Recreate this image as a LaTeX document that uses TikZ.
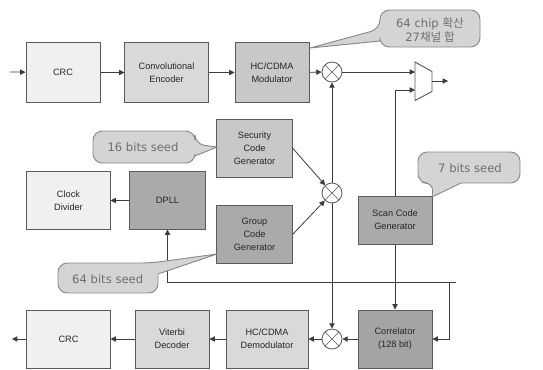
\documentclass[tikz,border=0pt]{standalone}
\usepackage{fontspec}
\setmainfont{Liberation Sans}
\newfontfamily\notefont{DejaVu Sans}
\newfontfamily\kofont{Noto Sans CJK KR}
\usetikzlibrary{arrows.meta}

\definecolor{wirec}{HTML}{3C3C3C}
\definecolor{edgec}{HTML}{5A5A5A}
\definecolor{fillA}{HTML}{F0F0F0}
\definecolor{fillB}{HTML}{D9D9D9}
\definecolor{fillC}{HTML}{C8C8C8}
\definecolor{fillD}{HTML}{AAAAAA}
\definecolor{fillE}{HTML}{A4A4A4}
\definecolor{notefill}{HTML}{D4D4D4}
\definecolor{noteedge}{HTML}{8A8A8A}
\definecolor{notetext}{HTML}{6E6E6E}

\begin{document}
\begin{tikzpicture}[x=0.75pt,y=-0.75pt,
  blk/.style={draw=edgec, line width=0.75pt, inner sep=0pt, align=center,
    text=black!85, font=\fontsize{6.9}{9.6}\selectfont},
  wire/.style={draw=wirec, line width=0.6pt},
  flow/.style={wire, -{Triangle[length=4pt,width=4pt]}},
  mult/.style={circle, draw=edgec, fill=white, line width=0.6pt,
    minimum size=15pt, inner sep=0pt,
    path picture={\draw[edgec, line width=0.5pt]
      (path picture bounding box.north west) -- (path picture bounding box.south east)
      (path picture bounding box.north east) -- (path picture bounding box.south west);}},
  note/.style={draw=noteedge, fill=notefill, line width=0.7pt},
  notetxt/.style={text=notetext, align=center, inner sep=0pt,
    font=\notefont\fontsize{8.7}{11}\selectfont}]

\useasboundingbox (0,0) rectangle (543,369);

% ---- transmit chain
\node[blk, fill=fillA, minimum width=55.5pt, minimum height=44.3pt] (crcT) at (63,72.5) {CRC};
\node[blk, fill=fillB, minimum width=62.3pt, minimum height=44.3pt] (conv) at (166.5,72.5) {Convolutional\\Encoder};
\node[blk, fill=fillC, minimum width=55.5pt, minimum height=44.3pt] (mod) at (272,72.5) {HC/CDMA\\Modulator};
\node[mult] (mxT) at (332,72) {};

% ---- code generators and clock
\node[blk, fill=fillC, minimum width=56.3pt, minimum height=43.5pt] (sec) at (254.5,148) {Security\\Code\\Generator};
\node[blk, fill=fillD, minimum width=56.3pt, minimum height=42.8pt] (grp) at (254.5,234.5) {Group\\Code\\Generator};
\node[blk, fill=fillA, minimum width=62.3pt, minimum height=42.8pt] (clk) at (68.5,200.5) {Clock\\Divider};
\node[blk, fill=fillD, minimum width=56.3pt, minimum height=42.8pt] (dpll) at (167.5,200.5) {DPLL};
\node[mult] (mxM) at (332,193) {};
\node[blk, fill=fillD, minimum width=55.5pt, minimum height=36pt] (scan) at (395,220) {Scan Code\\Generator};

% ---- receive chain
\node[blk, fill=fillE, minimum width=55.5pt, minimum height=43.5pt] (corr) at (395,339) {Correlator\\(128 bit)};
\node[mult] (mxB) at (332,339) {};
\node[blk, fill=fillB, minimum width=61.5pt, minimum height=43.5pt] (demod) at (267,339) {HC/CDMA\\Demodulator};
\node[blk, fill=fillB, minimum width=55.5pt, minimum height=43.5pt] (vit) at (172,339) {Viterbi\\Decoder};
\node[blk, fill=fillA, minimum width=62.3pt, minimum height=43.5pt] (crcB) at (68.5,339) {CRC};

% ---- selector (mux)
\coordinate (muxA) at (415,62);
\coordinate (muxB) at (432,71.5);
\coordinate (muxC) at (432,91.5);
\coordinate (muxD) at (415,100.5);
\draw[draw=edgec, fill=white, line width=0.7pt] (muxA) -- (muxB) -- (muxC) -- (muxD) -- cycle;
\coordinate (muxIn1) at (415,72);
\coordinate (muxIn2) at (415,90);
\coordinate (muxOut) at (432,81);

% ---- free ends and feedback bus
\coordinate (txIn) at (10,72);
\coordinate (txOut) at (448,81);
\coordinate (rxOut) at (12,339);
\coordinate (busR) at (456,282);
\coordinate (busL) at (167.5,282);
\coordinate (busDrop) at (449,282);

% ---- transmit connectors
\draw[flow] (txIn) -- (crcT);
\draw[flow] (crcT) -- (conv);
\draw[flow] (conv) -- (mod);
\draw[flow] (mod) -- (mxT);
\draw[flow] (mxT) -- (muxIn1);
\draw[flow] (muxOut) -- (txOut);
\draw[flow] (scan.north) |- (muxIn2);

% ---- code combining
\draw[flow] (sec.east) -- (mxM);
\draw[flow] (grp.east) -- (mxM);
\draw[flow] (mxM) -- (mxT);
\draw[flow] (mxM) -- (mxB);
\draw[flow] (scan) -- (corr);

% ---- clock and feedback
\draw[flow] (dpll) -- (clk);
\draw[flow] (busR) -- (busL) -- (dpll.south);
\draw[flow] (busDrop) |- (corr.east);

% ---- receive connectors
\draw[flow] (corr) -- (mxB);
\draw[flow] (mxB) -- (demod);
\draw[flow] (demod) -- (vit);
\draw[flow] (vit) -- (crcB);
\draw[flow] (crcB) -- (rxOut);

% ---- callouts
\draw[note] (310,48) -- (380,41) [rounded corners=7pt] -- (380,47) -- (480,47) -- (480,10) -- (380,10) -- (380,29) [sharp corners] -- cycle;
\node[notetxt] (n1) at (430,30) {64 chip {\kofont 확산}\\27{\kofont 채널 합}};

\draw[note] (217,147) -- (195,156) [rounded corners=7pt] -- (195,163) -- (93,163) -- (93,131) -- (195,131) -- (195,144) [sharp corners] -- cycle;
\node[notetxt] (n2) at (143,147.5) {16 bits seed};

\draw[note] (217,254) -- (158,274) [rounded corners=7pt] -- (158,293) -- (58,293) -- (58,263) -- (151,263) [sharp corners] -- cycle;
\node[notetxt] (n3) at (107.7,279) {64 bits seed};

\draw[note] (432,197) -- (461,183) [rounded corners=7pt] -- (520,183) -- (520,152) -- (418,152) -- (418,183) -- (434,183) [sharp corners] -- cycle;
\node[notetxt] (n4) at (470,168.5) {7 bits seed};

\end{tikzpicture}
\end{document}
